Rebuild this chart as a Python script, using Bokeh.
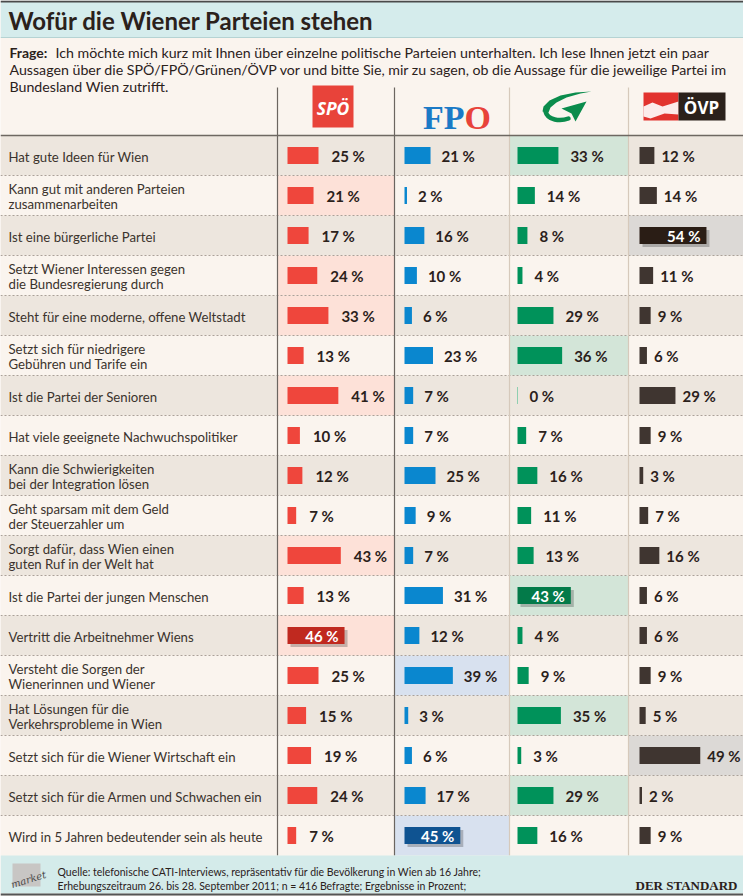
from bokeh.plotting import figure
from bokeh.models import Range1d, ColumnDataSource
from bokeh.core.properties import value
from bokeh.embed import file_html
from bokeh.resources import INLINE

# ---------------- data ----------------
title = "Wofür die Wiener Parteien stehen"
question_label = "Frage:"
question_lines = [
    "Ich möchte mich kurz mit Ihnen über einzelne politische Parteien unterhalten. Ich lese Ihnen jetzt ein paar",
    "Aussagen über die SPÖ/FPÖ/Grünen/ÖVP vor und bitte Sie, mir zu sagen, ob die Aussage für die jeweilige Partei im",
    "Bundesland Wien zutrifft.",
]
statements = [
    "Hat gute Ideen für Wien",
    "Kann gut mit anderen Parteien\nzusammenarbeiten",
    "Ist eine bürgerliche Partei",
    "Setzt Wiener Interessen gegen\ndie Bundesregierung durch",
    "Steht für eine moderne, offene Weltstadt",
    "Setzt sich für niedrigere\nGebühren und Tarife ein",
    "Ist die Partei der Senioren",
    "Hat viele geeignete Nachwuchspolitiker",
    "Kann die Schwierigkeiten\nbei der Integration lösen",
    "Geht sparsam mit dem Geld\nder Steuerzahler um",
    "Sorgt dafür, dass Wien einen\nguten Ruf in der Welt hat",
    "Ist die Partei der jungen Menschen",
    "Vertritt die Arbeitnehmer Wiens",
    "Versteht die Sorgen der\nWienerinnen und Wiener",
    "Hat Lösungen für die\nVerkehrsprobleme in Wien",
    "Setzt sich für die Wiener Wirtschaft ein",
    "Setzt sich für die Armen und Schwachen ein",
    "Wird in 5 Jahren bedeutender sein als heute",
]
parties = ["SPÖ", "FPÖ", "Grüne", "ÖVP"]
spoe = [25, 21, 17, 24, 33, 13, 41, 10, 12, 7, 43, 13, 46, 25, 15, 19, 24, 7]
fpoe = [21, 2, 16, 10, 6, 23, 7, 7, 25, 9, 7, 31, 12, 39, 3, 6, 17, 45]
gruene = [33, 14, 8, 4, 29, 36, 0, 7, 16, 11, 13, 43, 4, 9, 35, 3, 29, 16]
oevp = [12, 14, 54, 11, 9, 6, 29, 9, 3, 7, 16, 6, 6, 9, 5, 49, 2, 9]
series = [spoe, fpoe, gruene, oevp]
# index of the party whose cell is highlighted in each row (None = no highlight)
highlight = [2, 0, 3, 0, 0, 2, 0, None, None, None, 0, 2, 0, 1, 2, 3, 2, 1]
source_lines = [
    "Quelle: telefonische CATI-Interviews, repräsentativ für die Bevölkerung in Wien ab 16 Jahre;",
    "Erhebungszeitraum 26. bis 28. September 2011; n = 416 Befragte; Ergebnisse in Prozent;",
]
publisher = "DER STANDARD"
market_logo = "market"

# ---------------- style ----------------
W, H = 743, 896
FONT = "Lato"
SERIF = "Liberation Serif"
BG = "#faf4ee"
ROW_DARK = "#ede6de"
ROW_LIGHT = "#faf4ee"
TXT = "#2b211b"
LBL = "#3b332d"
PX_PER_PCT = 1.24
ROW_H = 40
ROWS_TOP = 135
HEADER_TOP = 87
BAR_HALF = 8.5
bar_start_px = [287, 404, 517, 639]
col_edges = [277, 394, 509, 628, 743]
col_line = ["#6b6560", "#6b6560", "#d6c9bb", "#d6c9bb"]
label_gap = [13, 11, 12, 7]
bar_col = ["#ef463c", "#0a87cf", "#00925a", "#3f3530"]
max_col = ["#c0291f", "#0f5391", "#037a49", "#2a1d15"]
zero_col = ["#f6a9a3", "#9fcbea", "#8fcfb0", "#a9a09a"]
tint_col = ["#fde1d8", "#d8e1ef", "#d3e5d8", "#dcd9d6"]

n = len(statements)
idx = list(range(n))

p = figure(width=W, height=H, x_range=Range1d(0, W), y_range=Range1d(H, 0),
           toolbar_location=None, output_backend="svg",
           x_axis_type=None, y_axis_type=None, min_border=0,
           background_fill_color=BG, border_fill_color=BG, outline_line_color=None)
p.grid.visible = False

rows_top_val = -0.5 - ROWS_TOP / ROW_H
rows_bot_val = rows_top_val + H / ROW_H
p.extra_y_ranges = {"rows": Range1d(start=rows_bot_val, end=rows_top_val)}
xr = {}
for j in range(4):
    b = bar_start_px[j]
    xr[f"p{j}"] = Range1d(start=-b / PX_PER_PCT, end=(W - b) / PX_PER_PCT)
p.extra_x_ranges = xr

# ---- title band ----
p.quad(left=0, right=W, top=0, bottom=37, fill_color="#d5ecec", line_color=None)
p.segment(x0=0, x1=W, y0=1, y1=1, line_color="#4a4a4a", line_width=2)
p.segment(x0=0, x1=W, y0=37, y1=37, line_color="#b5d3d3", line_width=1)
p.text(x=[8], y=[20], text=[title], text_font=value(FONT), text_font_style="bold",
       text_font_size="24px", text_color=TXT, text_baseline="middle")

# ---- question ----
p.text(x=[9], y=[52], text=[question_label], text_font=value(FONT), text_font_style="bold",
       text_font_size="14px", text_color=TXT, text_baseline="middle")
p.text(x=[55, 9, 9], y=[52, 69, 86], text=question_lines, text_font=value(FONT),
       text_font_size="14.2px", text_color=TXT, text_baseline="middle")

# ---- rows background ----
rb = ColumnDataSource(dict(top=[i - 0.5 for i in idx], bottom=[i + 0.5 for i in idx],
                           color=[ROW_DARK if i % 2 == 0 else ROW_LIGHT for i in idx]))
p.quad(left=0, right=W, top="top", bottom="bottom", fill_color="color", line_color=None,
       source=rb, y_range_name="rows")

hl = [i for i in idx if highlight[i] is not None]
p.quad(left=[col_edges[highlight[i]] for i in hl], right=[col_edges[highlight[i] + 1] for i in hl],
       top=[i - 0.5 for i in hl], bottom=[i + 0.5 for i in hl],
       fill_color=[tint_col[highlight[i]] for i in hl], line_color=None, y_range_name="rows")

p.segment(x0=0, x1=W, y0=[i + 0.5 for i in idx[:-1]], y1=[i + 0.5 for i in idx[:-1]],
          line_color="#aaa199", line_width=1, line_dash="2 2", y_range_name="rows")

# vertical column lines
rows_bottom_px = ROWS_TOP + n * ROW_H
p.segment(x0=col_edges[:4], x1=col_edges[:4], y0=HEADER_TOP, y1=rows_bottom_px,
          line_color=col_line, line_width=1.2)
# header bottom line
p.segment(x0=0, x1=W, y0=-0.5, y1=-0.5, line_color="#6e6862", line_width=1.5, y_range_name="rows")

# ---- row labels ----
lx, ly, lt = [], [], []
for i, s in enumerate(statements):
    lines = s.split("\n")
    k = len(lines)
    for li, line in enumerate(lines):
        lx.append(8)
        ly.append(i + (1 + (li - (k - 1) / 2) * 15) / ROW_H)
        lt.append(line)
p.text(x=lx, y=ly, text=lt, text_font=value(FONT), text_font_size="13.2px", text_color=LBL,
       text_baseline="middle", y_range_name="rows")

# ---- bars ----
bh = BAR_HALF / ROW_H
for j in range(4):
    vals = series[j]
    vmax = max(vals)
    rn = f"p{j}"
    # shadow of maximum bar
    mi = [i for i in idx if vals[i] == vmax]
    sx, sy = 3 / PX_PER_PCT, 3 / ROW_H
    p.quad(left=[sx for i in mi], right=[vals[i] + sx for i in mi],
           top=[i - bh + sy for i in mi], bottom=[i + bh + sy for i in mi],
           fill_color="#000000", fill_alpha=0.22, line_color=None,
           x_range_name=rn, y_range_name="rows")
    src = ColumnDataSource(dict(y=idx, v=vals, top=[i - bh for i in idx], bottom=[i + bh for i in idx],
                                color=[max_col[j] if v == vmax else bar_col[j] for v in vals]))
    p.quad(left=0, right="v", top="top", bottom="bottom", fill_color="color", line_color=None,
           source=src, x_range_name=rn, y_range_name="rows")
    zi = [i for i in idx if vals[i] == 0]
    if zi:
        p.segment(x0=0, x1=0, y0=[i - bh for i in zi], y1=[i + bh for i in zi],
                  line_color=zero_col[j], line_width=1, x_range_name=rn, y_range_name="rows")
    ni = [i for i in idx if vals[i] != vmax]
    p.text(x=[vals[i] for i in ni], y=[i + 0.5 / ROW_H for i in ni], text=[f"{vals[i]} %" for i in ni],
           x_offset=label_gap[j], text_font=value(FONT), text_font_style="bold",
           text_font_size="15px", text_color=TXT, text_baseline="middle",
           x_range_name=rn, y_range_name="rows")
    p.text(x=[vals[i] for i in mi], y=[i + 0.5 / ROW_H for i in mi], text=[f"{vals[i]} %" for i in mi],
           x_offset=-6, text_align="right", text_font=value(FONT), text_font_style="bold",
           text_font_size="15px", text_color="white", text_baseline="middle",
           x_range_name=rn, y_range_name="rows")

# ---- party logos ----
# SPÖ
p.quad(left=312, right=353, top=85, bottom=127, fill_color="#e8433a", line_color=None)
p.text(x=[332.5], y=[107], text=["SPÖ"], text_font=value("Open Sans"), text_font_style="bold italic",
       text_font_size="17.5px", text_color="white", text_align="center", text_baseline="middle")
# FPÖ
p.text(x=[464], y=[117], text=["FP"], text_font=value(SERIF), text_font_style="bold",
       text_font_size="34px", text_color="#1b7ac6", text_align="right", text_baseline="alphabetic")
p.text(x=[464], y=[117], text=["O"], text_font=value(SERIF), text_font_style="bold",
       text_font_size="34px", text_color="#e8433a", text_align="left", text_baseline="alphabetic")
# Grüne swoosh
GREEN = "#0a8c4c"
p.patch(x=[591, 575, 560, 549, 543, 542, 548, 550, 556, 566, 580],
        y=[91, 92, 95, 100, 106, 111, 112, 107, 102, 97, 93],
        fill_color=GREEN, line_color=None)
p.bezier(x0=[545], y0=[111], x1=[568], y1=[118], cx0=[547], cy0=[120], cx1=[560], cy1=[121],
         line_color=GREEN, line_width=4.5, line_cap="round")
p.patch(x=[561, 586, 575, 571], y=[108, 101, 121, 113], fill_color=GREEN, line_color=None)
# ÖVP
p.quad(left=643, right=678, top=92, bottom=120, fill_color="#e2322e", line_color=None)
p.patch(x=[643, 652, 662, 678, 678, 664, 650, 643], y=[106, 102, 106, 101, 114, 113, 118, 116],
        fill_color="white", fill_alpha=0.9, line_color=None)
p.quad(left=678, right=725, top=92, bottom=120, fill_color="#2b211b", line_color=None)
p.text(x=[701], y=[107], text=["ÖVP"], text_font=value("Open Sans"), text_font_style="bold",
       text_font_size="17px", text_color="white", text_align="center", text_baseline="middle")

# ---- footer ----
p.quad(left=0, right=W, top=rows_bottom_px, bottom=893, fill_color="#d4ebea", line_color=None)
p.segment(x0=0, x1=W, y0=894, y1=894, line_color="#555555", line_width=2)
p.quad(left=12, right=40, top=863, bottom=886, fill_color="#c8c6c4", line_color=None)
p.text(x=[28], y=[879], text=[market_logo], text_font=value("DejaVu Serif"), text_font_style="italic",
       text_font_size="10px", text_color="#4a4a4a", text_align="center", text_baseline="middle",
       angle=0.3)
p.text(x=[57, 57], y=[871, 885], text=source_lines, text_font=value(FONT),
       text_font_size="10.5px", text_color=TXT, text_baseline="middle")
p.text(x=[737], y=[885], text=[publisher], text_font=value(SERIF), text_font_style="bold",
       text_font_size="13px", text_color=TXT, text_align="right", text_baseline="middle")

open("out.html", "w").write(file_html(p, INLINE))
